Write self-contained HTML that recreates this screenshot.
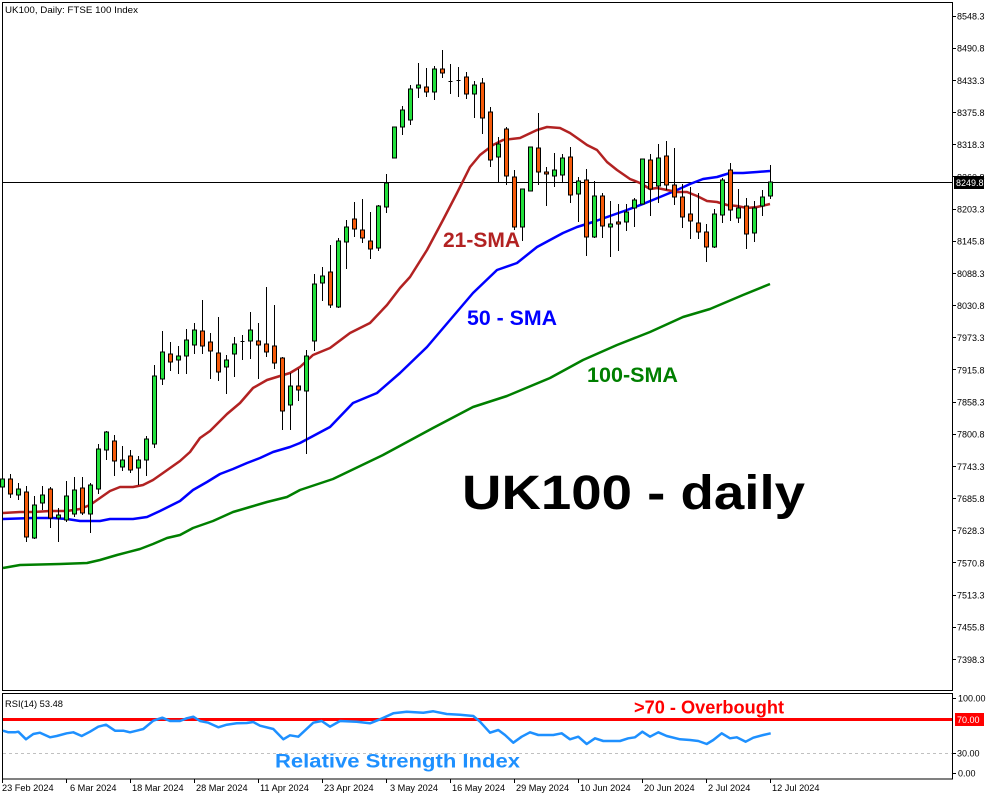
<!DOCTYPE html>
<html><head><meta charset="utf-8"><style>
html,body{margin:0;padding:0;background:#fff;}
svg{display:block;}
</style></head><body>
<svg width="1000" height="800" viewBox="0 0 1000 800" xmlns="http://www.w3.org/2000/svg" font-family="'Liberation Sans', Arial, sans-serif">
<rect width="1000" height="800" fill="#fff"/>

<!-- frames -->
<rect x="2.5" y="2.5" width="950" height="688" fill="none" stroke="#000" stroke-width="1"/>
<rect x="2.5" y="693.5" width="950" height="85.5" fill="none" stroke="#000" stroke-width="1"/>

<!-- title -->
<text x="5" y="13" font-size="9.5" fill="#000" textLength="133" lengthAdjust="spacingAndGlyphs">UK100, Daily:  FTSE 100 Index</text>

<!-- price axis ticks -->
<g stroke="#000" stroke-width="1">
<path d="M952 16.5h4M952 48.5h4M952 80.5h4M952 112.5h4M952 144.5h4M952 176.5h4M952 209.5h4M952 241.5h4M952 273.5h4M952 305.5h4M952 337.5h4M952 369.5h4M952 402.5h4M952 434.5h4M952 466.5h4M952 498.5h4M952 530.5h4M952 562.5h4M952 595.5h4M952 627.5h4M952 659.5h4"/>
</g>
<g font-size="9" fill="#000">
<text x="957" y="19.5">8548.3</text>
<text x="957" y="51.7">8490.8</text>
<text x="957" y="83.8">8433.3</text>
<text x="957" y="116">8375.8</text>
<text x="957" y="148.2">8318.3</text>
<text x="957" y="180.4">8260.8</text>
<text x="957" y="212.5">8203.3</text>
<text x="957" y="244.7">8145.8</text>
<text x="957" y="276.9">8088.3</text>
<text x="957" y="309">8030.8</text>
<text x="957" y="341.2">7973.3</text>
<text x="957" y="373.4">7915.8</text>
<text x="957" y="405.5">7858.3</text>
<text x="957" y="437.7">7800.8</text>
<text x="957" y="469.9">7743.3</text>
<text x="957" y="502.1">7685.8</text>
<text x="957" y="534.2">7628.3</text>
<text x="957" y="566.4">7570.8</text>
<text x="957" y="598.6">7513.3</text>
<text x="957" y="630.7">7455.8</text>
<text x="957" y="662.9">7398.3</text>
</g>

<!-- current price line -->
<line x1="2.5" y1="182.5" x2="952" y2="182.5" stroke="#000" stroke-width="1"/>
<rect x="954" y="176" width="30" height="13" fill="#000"/>
<text x="956" y="186" font-size="9" fill="#fff">8249.8</text>

<!-- SMA lines -->
<polyline fill="none" stroke="#007f00" stroke-width="2.5" stroke-linejoin="round" points="3,568 20,565 60,564 87,563 100,560 117,555 140,549 153,544 167,538 180,535 193,528 213,521 233,512 250,507 267,502 287,497 300,490 333,479 383,455 433,428 473,407 507,396 550,378 583,360 617,345 650,332 683,317 710,309 743,295 770,284"/>
<polyline fill="none" stroke="#0000ff" stroke-width="2.5" stroke-linejoin="round" points="3,519 33,518 53,518 67,519 80,521 100,521 110,519 133,519 147,517 160,511 180,501 193,490 207,482 220,474 233,469 247,463 260,458 273,452 290,447 300,443 330,427 353,403 377,393 400,373 427,347 450,320 473,293 497,270 517,263 537,247 550,240 563,233 577,227 593,222 610,216 627,210 643,204 660,197 677,190 690,184 703,179 717,177 730,173 743,173 757,172 770,171"/>
<polyline fill="none" stroke="#b22222" stroke-width="2.5" stroke-linejoin="round" points="3,513 20,512 33,512 50,511 67,511 80,509 90,505 100,498 110,491 120,487 133,487 143,485 153,480 163,473 180,461 190,452 200,438 210,431 227,414 240,403 253,388 267,380 280,376 290,373 300,367 313,355 330,348 350,333 370,323 387,305 400,288 410,277 427,250 443,220 457,193 470,167 480,155 493,145 503,140 520,138 537,130 547,127 560,128 570,133 580,140 587,145 597,150 607,162 617,170 630,179 640,183 650,189 657,188 667,190 677,192 687,192 697,196 707,201 717,202 727,205 737,206 747,208 757,207 770,204"/>

<!-- wicks -->
<path fill="none" stroke="#000" stroke-width="1" d="M2.5 475V492M10.5 474V498M18.5 483V500M26.5 486V542M34.5 496V539M42.5 486V510M50.5 487V528M58.5 508V542M66.5 481V522M74.5 477V517M82.5 477V515M90.5 483V533M98.5 444V494M106.5 431V460M114.5 435V476M122.5 446V471M130.5 450V473M138.5 456V485M146.5 436V476M154.5 365V448M162.5 331V385M170.5 342V371M178.5 346V374M186.5 329V374M194.5 323V354M202.5 300V354M210.5 333V379M218.5 317V381M226.5 355V394M234.5 337V377M242.5 335V360M250.5 312V359M258.5 323V379M266.5 287V357M274.5 305V369M282.5 357V430M290.5 373V430M298.5 369V401M306.5 350V454M314.5 274V351M322.5 267V301M330.5 245V308M338.5 238V308M346.5 220V269M354.5 202V237M362.5 199V243M370.5 212V259M378.5 205V251M386.5 174V213M394.5 127V158M402.5 106V135M410.5 85V125M418.5 63V98M426.5 68V97M434.5 66V100M442.5 50V78M450.5 64V94M458.5 67V97M466.5 72V99M474.5 81V118M482.5 78V134M490.5 107V167M498.5 137V182M506.5 127V185M514.5 170V230M522.5 189V241M530.5 147V191M538.5 113V185M546.5 167V206M554.5 153V187M562.5 154V182M570.5 147V203M578.5 177V222M586.5 169V256M594.5 181V238M602.5 193V238M610.5 201V257M618.5 204V251M626.5 204V231M634.5 198V227M642.5 159V204M650.5 154V216M658.5 144V203M666.5 141V190M674.5 148V205M682.5 184V228M690.5 187V239M698.5 193V239M706.5 224V262M714.5 209V248M722.5 178V223M730.5 163V221M738.5 189V223M746.5 198V249M754.5 201V242M762.5 190V216M770.5 165V199M240.5 341.5h4M448.5 81.5h4M456.5 80.5h4"/>

<!-- green bodies -->
<g fill="#22e03c" stroke="#000" stroke-width="1">
<rect x="0.5" y="479" width="4" height="8"/>
<rect x="16.5" y="489" width="4" height="6"/>
<rect x="32.5" y="505" width="4" height="33"/>
<rect x="40.5" y="495" width="4" height="8"/>
<rect x="56.5" y="515" width="4" height="3"/>
<rect x="64.5" y="496" width="4" height="24"/>
<rect x="72.5" y="490" width="4" height="24"/>
<rect x="88.5" y="485" width="4" height="29"/>
<rect x="96.5" y="449" width="4" height="40"/>
<rect x="104.5" y="432" width="4" height="18"/>
<rect x="120.5" y="460" width="4" height="7"/>
<rect x="136.5" y="460" width="4" height="8"/>
<rect x="144.5" y="439" width="4" height="21"/>
<rect x="152.5" y="376" width="4" height="68"/>
<rect x="160.5" y="352" width="4" height="27"/>
<rect x="176.5" y="356" width="4" height="4"/>
<rect x="184.5" y="340" width="4" height="16"/>
<rect x="192.5" y="330" width="4" height="15"/>
<rect x="224.5" y="360" width="4" height="7"/>
<rect x="232.5" y="344" width="4" height="10"/>
<rect x="248.5" y="330" width="4" height="11"/>
<rect x="288.5" y="386" width="4" height="19"/>
<rect x="304.5" y="356" width="4" height="35"/>
<rect x="312.5" y="284" width="4" height="57"/>
<rect x="320.5" y="276" width="4" height="7"/>
<rect x="336.5" y="241" width="4" height="66"/>
<rect x="344.5" y="227" width="4" height="15"/>
<rect x="376.5" y="206" width="4" height="42"/>
<rect x="384.5" y="183" width="4" height="24"/>
<rect x="392.5" y="127" width="4" height="31"/>
<rect x="400.5" y="110" width="4" height="17"/>
<rect x="408.5" y="89" width="4" height="31"/>
<rect x="416.5" y="85" width="4" height="3"/>
<rect x="432.5" y="69" width="4" height="23"/>
<rect x="472.5" y="85" width="4" height="9"/>
<rect x="496.5" y="144" width="4" height="13"/>
<rect x="520.5" y="189" width="4" height="38"/>
<rect x="528.5" y="147" width="4" height="44"/>
<rect x="552.5" y="170" width="4" height="6"/>
<rect x="560.5" y="158" width="4" height="17"/>
<rect x="576.5" y="181" width="4" height="13"/>
<rect x="592.5" y="196" width="4" height="41"/>
<rect x="608.5" y="224" width="4" height="3"/>
<rect x="624.5" y="212" width="4" height="10"/>
<rect x="632.5" y="200" width="4" height="8"/>
<rect x="640.5" y="159" width="4" height="45"/>
<rect x="656.5" y="158" width="4" height="28"/>
<rect x="712.5" y="214" width="4" height="33"/>
<rect x="720.5" y="180" width="4" height="35"/>
<rect x="736.5" y="208" width="4" height="10"/>
<rect x="752.5" y="208" width="4" height="25"/>
<rect x="760.5" y="197" width="4" height="9"/>
<rect x="768.5" y="182" width="4" height="14"/>
</g>

<!-- orange bodies -->
<g fill="#f55a0a" stroke="#000" stroke-width="1">
<rect x="8.5" y="479" width="4" height="15"/>
<rect x="24.5" y="492" width="4" height="45"/>
<rect x="48.5" y="489" width="4" height="29"/>
<rect x="80.5" y="488" width="4" height="25"/>
<rect x="112.5" y="441" width="4" height="20"/>
<rect x="128.5" y="456" width="4" height="14"/>
<rect x="168.5" y="354" width="4" height="8"/>
<rect x="200.5" y="331" width="4" height="15"/>
<rect x="208.5" y="342" width="4" height="9"/>
<rect x="216.5" y="353" width="4" height="19"/>
<rect x="256.5" y="341" width="4" height="4"/>
<rect x="264.5" y="344" width="4" height="8"/>
<rect x="272.5" y="346" width="4" height="17"/>
<rect x="280.5" y="358" width="4" height="53"/>
<rect x="296.5" y="386" width="4" height="4"/>
<rect x="328.5" y="272" width="4" height="33"/>
<rect x="352.5" y="219" width="4" height="10"/>
<rect x="360.5" y="230" width="4" height="8"/>
<rect x="368.5" y="241" width="4" height="8"/>
<rect x="424.5" y="87" width="4" height="5"/>
<rect x="440.5" y="69" width="4" height="4"/>
<rect x="464.5" y="77" width="4" height="17"/>
<rect x="480.5" y="83" width="4" height="35"/>
<rect x="488.5" y="112" width="4" height="48"/>
<rect x="504.5" y="129" width="4" height="47"/>
<rect x="512.5" y="177" width="4" height="50"/>
<rect x="536.5" y="148" width="4" height="24"/>
<rect x="544.5" y="172" width="4" height="2"/>
<rect x="568.5" y="157" width="4" height="38"/>
<rect x="584.5" y="180" width="4" height="57"/>
<rect x="600.5" y="196" width="4" height="30"/>
<rect x="616.5" y="222" width="4" height="2"/>
<rect x="648.5" y="160" width="4" height="29"/>
<rect x="664.5" y="156" width="4" height="29"/>
<rect x="672.5" y="185" width="4" height="12"/>
<rect x="680.5" y="197" width="4" height="20"/>
<rect x="688.5" y="214" width="4" height="7"/>
<rect x="696.5" y="223" width="4" height="9"/>
<rect x="704.5" y="232" width="4" height="15"/>
<rect x="728.5" y="170" width="4" height="40"/>
<rect x="744.5" y="206" width="4" height="28"/>
</g>

<!-- SMA labels -->
<g font-weight="bold" font-size="21.5">
<text x="443" y="247" fill="#b22222" textLength="77" lengthAdjust="spacingAndGlyphs">21-SMA</text>
<text x="467" y="325" fill="#0000ff" textLength="90" lengthAdjust="spacingAndGlyphs">50 - SMA</text>
<text x="587" y="382" fill="#007f00" textLength="91" lengthAdjust="spacingAndGlyphs">100-SMA</text>
</g>
<text x="462" y="509" font-size="48" font-weight="bold" fill="#000" textLength="343" lengthAdjust="spacingAndGlyphs">UK100 - daily</text>

<!-- RSI panel -->
<text x="5" y="707" font-size="9.5" fill="#000" textLength="58" lengthAdjust="spacingAndGlyphs">RSI(14) 53.48</text>
<line x1="3" y1="753.5" x2="952" y2="753.5" stroke="#c0c0c0" stroke-width="1" stroke-dasharray="3,3"/>
<line x1="3" y1="719.5" x2="952" y2="719.5" stroke="#ff0000" stroke-width="3"/>
<polyline fill="none" stroke="#1e90ff" stroke-width="2.5" stroke-linejoin="round" points="3,730.7 8.3,732.3 15,732.3 18.3,731.7 26,739.3 33.3,734 40,732.7 50,737.3 56.7,736 66.7,733.3 73.3,732.3 81.7,736 90,731.7 98.3,726.7 106,724.7 115,730.7 123.3,730.7 130,732.3 136.7,730.7 143.3,729 153.3,720.7 162.3,717.7 170,721 180,721 186.7,718.3 193.3,716.7 200,721 208.3,722.7 218.3,727.3 226.7,724.7 236.7,723.3 246.7,723 253.3,722 260,725.7 273.3,729 283.3,739.3 290,735.3 298.3,736.7 313.3,722.7 321.7,721 330,726.7 340,721 356.7,721.7 370,723.3 380,719.3 393.3,713.3 406.7,711.7 423.3,712.7 433.3,711.3 446.7,714 460,714.7 473.3,716 480,721.7 490,732.7 498.3,730 505,735 513.3,742.7 521.7,736.7 530,732.3 538.3,735 546.7,735 553.3,735 561.7,733.3 570,739.3 578.3,736.7 586.7,744 595,738.3 603.3,741 613.3,741 620,741 628.3,738.3 635,737.3 642.3,731.7 650,736.7 658.3,732.3 666.7,736 680,739.3 690,740 698.3,741 706.7,744 713.3,740 721.7,733.3 730,738.3 736.7,737.3 745.7,741.7 753.3,737.7 763.3,735 770.7,733.3"/>
<text x="634" y="713.5" font-size="18" font-weight="bold" fill="#ff0000" textLength="150" lengthAdjust="spacingAndGlyphs">&gt;70 - Overbought</text>
<text x="275" y="767.5" font-size="19.5" font-weight="bold" fill="#1e90ff" textLength="245" lengthAdjust="spacingAndGlyphs">Relative Strength Index</text>

<!-- RSI axis -->
<path d="M952 698.5h4M952 753.5h4M952 773.5h4" stroke="#000" stroke-width="1"/>
<g font-size="9" fill="#000">
<text x="958" y="701.5">100.00</text>
<text x="957" y="756.5">30.00</text>
<text x="958" y="776.5">0.00</text>
</g>
<rect x="955" y="713" width="29" height="13" fill="#ff0000"/>
<text x="957" y="723" font-size="9" fill="#fff">70.00</text>

<!-- time axis -->
<path d="M2.5 779v4M66.5 779v4M130.5 779v4M194.5 779v4M258.5 779v4M322.5 779v4M386.5 779v4M450.5 779v4M514.5 779v4M578.5 779v4M642.5 779v4M706.5 779v4M770.5 779v4" stroke="#000" stroke-width="1"/>
<g font-size="9.2" fill="#000">
<text x="2" y="791">23 Feb 2024</text>
<text x="70" y="791">6 Mar 2024</text>
<text x="132" y="791">18 Mar 2024</text>
<text x="196" y="791">28 Mar 2024</text>
<text x="260" y="791">11 Apr 2024</text>
<text x="324" y="791">23 Apr 2024</text>
<text x="390" y="791">3 May 2024</text>
<text x="452" y="791">16 May 2024</text>
<text x="516" y="791">29 May 2024</text>
<text x="580" y="791">10 Jun 2024</text>
<text x="644" y="791">20 Jun 2024</text>
<text x="708" y="791">2 Jul 2024</text>
<text x="772" y="791">12 Jul 2024</text>
</g>
</svg>
</body></html>
